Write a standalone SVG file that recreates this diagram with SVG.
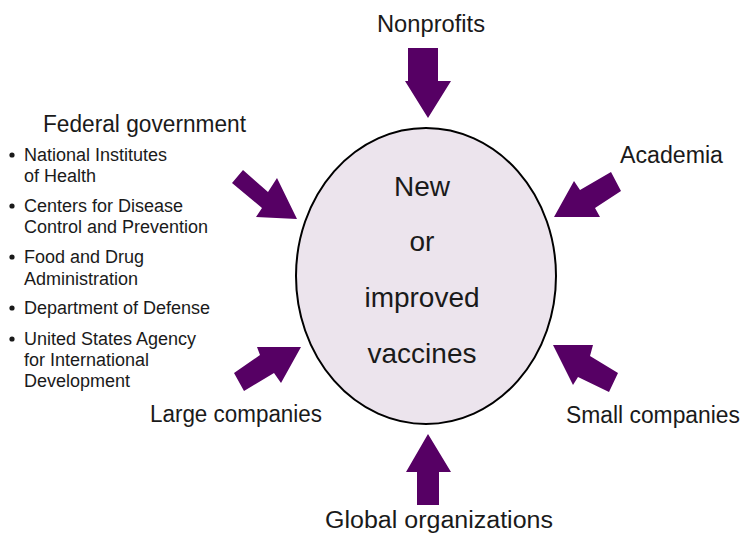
<svg xmlns="http://www.w3.org/2000/svg" width="743" height="541" viewBox="0 0 743 541">
<style>
text{font-family:"Liberation Sans",Arial,sans-serif;fill:#1a1a1a}
.lbl{font-size:23px}
.li{font-size:18px}
.ctr{font-size:28px;text-anchor:middle}
.arr{fill:#560064}
</style>
<rect width="743" height="541" fill="#ffffff"/>
<g id="center">
<ellipse cx="426" cy="276" rx="130" ry="148" fill="#ece4ed" stroke="#000" stroke-width="2"/>
<text class="ctr" x="422" y="196">New</text>
<text class="ctr" x="422" y="251">or</text>
<text class="ctr" x="422" y="307">improved</text>
<text class="ctr" x="422" y="363">vaccines</text>
</g>
<g id="nonprofits"><text class="lbl" x="377" y="32" textLength="108" lengthAdjust="spacingAndGlyphs">Nonprofits</text></g>
<g id="academia"><text class="lbl" x="620" y="163" textLength="103" lengthAdjust="spacingAndGlyphs">Academia</text></g>
<g id="small-companies"><text class="lbl" x="566" y="423" textLength="174" lengthAdjust="spacingAndGlyphs">Small companies</text></g>
<g id="global-organizations"><text class="lbl" x="325" y="528" textLength="228" lengthAdjust="spacingAndGlyphs">Global organizations</text></g>
<g id="large-companies"><text class="lbl" x="150" y="422" textLength="172" lengthAdjust="spacingAndGlyphs">Large companies</text></g>
<g id="federal-government">
<text class="lbl" x="43" y="132" textLength="203" lengthAdjust="spacingAndGlyphs">Federal government</text>
<g fill="#1a1a1a">
<circle cx="12" cy="155" r="2.6"/>
<circle cx="12" cy="206" r="2.6"/>
<circle cx="12" cy="257" r="2.6"/>
<circle cx="12" cy="308" r="2.6"/>
<circle cx="12" cy="339" r="2.6"/>
</g>
<text class="li" x="24" y="161">National Institutes</text>
<text class="li" x="24" y="182">of Health</text>
<text class="li" x="24" y="212">Centers for Disease</text>
<text class="li" x="24" y="233">Control and Prevention</text>
<text class="li" x="24" y="263">Food and Drug</text>
<text class="li" x="24" y="285">Administration</text>
<text class="li" x="24" y="314">Department of Defense</text>
<text class="li" x="24" y="345">United States Agency</text>
<text class="li" x="24" y="366">for International</text>
<text class="li" x="24" y="387">Development</text>
</g>
<g id="connectors">
<polygon class="arr" points="408,48 438,48 438,81 451,81 428,118 405,81 408,81"/>
<polygon class="arr" points="428,434 451,472 439,472 439,505 417,505 417,472 406,472"/>
<polygon class="arr" points="554,217 574,181 580,190 611,172 621,191 595,208 600,217"/>
<polygon class="arr" points="297,219 277,178 268,192 243,170 232,183 262,208 256,217"/>
<polygon class="arr" points="301,347 257,347 260,355 234,373 244,391 274,373 281,383"/>
<polygon class="arr" points="553,345 593,345 590,356 618,373 609,392 578,377 573,385"/>
</g>
</svg>
